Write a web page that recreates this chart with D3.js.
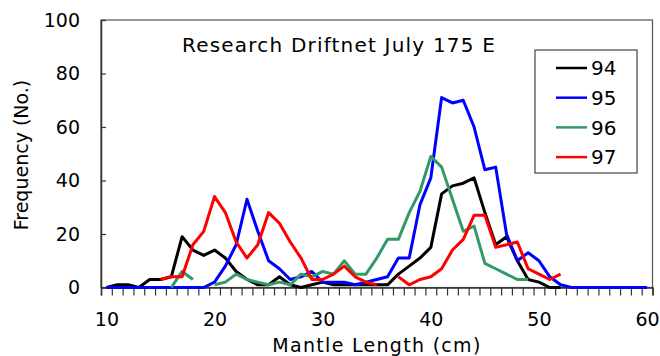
<!DOCTYPE html>
<html>
<head>
<meta charset="utf-8" />
<title>Research Driftnet July 175 E</title>
<script src="https://d3js.org/d3.v7.min.js"></script>
<style>
  body { margin: 0; background: #fff; }
  text { font-family: "DejaVu Sans", sans-serif; fill: #000; }
</style>
</head>
<body>
<script>
// mantle length classes (cm), one value per class, null = no point
const lengths = [10,11,12,13,14,15,16,17,18,19,20,21,22,23,24,25,26,27,28,29,30,31,32,33,34,35,
                 36,37,38,39,40,41,42,43,44,45,46,47,48,49,50,51,52,53,54,55,56,57,58,59,60];

const y94 = [0,1,1,0,3,3,4,19,14,12,14,11,6,3,1,1,4,1,0,1,2,1,1,1,1,1,
             1,5,8,11,15,35,38,39,41,28,16,19,10,3,2,0,0,null,null,null,null,null,null,null,null];
const y95 = [0,0,0,0,0,0,0,0,0,0,2,8,16,33,21,10,7,3,4,6,2,2,2,1,2,3,
             4,11,11,31,41,71,69,70,60,44,45,20,10,13,10,4,1,0,0,0,0,0,0,0,0];
const y96 = [null,null,null,null,null,null,0,6,3,null,1,2,5,3,2,1,2,1,5,4,6,5,10,5,5,11,
             18,18,28,36,49,45,33,21,23,9,7,5,3,3,null,null,null,null,null,null,null,null,null,null,null];
const y97 = [null,null,null,null,null,3,4,4,16,21,34,28,17,11,16,28,24,17,11,3,3,5,8,4,2,1,
             null,4,1,3,4,7,14,18,27,27,15,16,17,7,5,3,5,null,null,null,null,null,null,null,null];

const seriesNames = ["94", "95", "96", "97"];
const seriesColors = ["#000000", "#0000ff", "#339966", "#ff0000"];
const seriesValues = [y94, y95, y96, y97];

const yTicks = [0, 20, 40, 60, 80, 100];
const xLabels = [10, 20, 30, 40, 50, 60];

const W = 660, H = 356;
const plot = { left: 101, right: 652.5, top: 20, bottom: 287.5 };

const svg = d3.select("body").append("svg")
  .attr("width", W)
  .attr("height", H);

// category axis: each length sits in the middle of its slot
const x = d3.scaleLinear()
  .domain([9.5, 60.5])
  .range([plot.left, plot.right]);
const y = d3.scaleLinear()
  .domain([0, 100])
  .range([plot.bottom, plot.top]);

// frame
svg.append("rect")
  .attr("x", plot.left)
  .attr("y", plot.top)
  .attr("width", plot.right - plot.left)
  .attr("height", plot.bottom - plot.top)
  .attr("fill", "none")
  .attr("stroke", "#555")
  .attr("stroke-width", 1.2);

// y axis, ticks pointing in
const yAxis = svg.append("g")
  .attr("transform", `translate(${plot.left},0)`)
  .call(d3.axisLeft(y).tickValues(yTicks).tickSizeInner(-5).tickSizeOuter(0).tickPadding(21));
yAxis.select(".domain").attr("stroke", "#333").attr("stroke-width", 1.5);
yAxis.selectAll(".tick line").attr("stroke", "#333").attr("stroke-width", 1.2);
yAxis.selectAll("text").style("font-size", "19px").attr("fill", "#000");

// x axis: slot boundary ticks pointing down
const xAxisTicks = svg.append("g")
  .attr("transform", `translate(0,${plot.bottom})`)
  .call(d3.axisBottom(x).tickValues(d3.range(9.5, 61, 1)).tickSize(8).tickFormat(""));
xAxisTicks.select(".domain").attr("stroke", "#333").attr("stroke-width", 1.5);
xAxisTicks.selectAll(".tick line").attr("stroke", "#333").attr("stroke-width", 1.2);

const xAxisLabels = svg.append("g")
  .attr("transform", `translate(0,${plot.bottom})`)
  .call(d3.axisBottom(x).tickValues(xLabels).tickSize(0).tickPadding(25));
xAxisLabels.select(".domain").remove();
xAxisLabels.selectAll("text").style("font-size", "19px").attr("fill", "#000");

// axis titles
svg.append("text")
  .attr("x", 377)
  .attr("y", 352)
  .attr("text-anchor", "middle")
  .style("font-size", "19px")
  .style("letter-spacing", "1.3px")
  .text("Mantle Length (cm)");

svg.append("text")
  .attr("transform", "translate(28,155) rotate(-90)")
  .attr("text-anchor", "middle")
  .style("font-size", "19px")
  .text("Frequency (No.)");

svg.append("text")
  .attr("x", 182)
  .attr("y", 52)
  .style("font-size", "20px")
  .style("letter-spacing", "1.2px")
  .text("Research Driftnet July 175 E");

// series lines
const line = d3.line()
  .defined(d => d != null)
  .x((d, i) => x(lengths[i]))
  .y(d => y(d));

svg.append("g")
  .selectAll("path")
  .data(seriesValues)
  .join("path")
  .attr("d", line)
  .attr("fill", "none")
  .attr("stroke", (d, i) => seriesColors[i])
  .attr("stroke-width", 3)
  .attr("stroke-linejoin", "round");

// legend
const legend = svg.append("g");
legend.append("rect")
  .attr("x", 535)
  .attr("y", 50)
  .attr("width", 102)
  .attr("height", 123)
  .attr("fill", "#fff")
  .attr("stroke", "#444")
  .attr("stroke-width", 1.2);

const items = legend.selectAll(".item")
  .data(seriesNames)
  .join("g")
  .attr("class", "item")
  .attr("transform", (d, i) => `translate(0,${68 + i * 29.7})`);
items.append("line")
  .attr("x1", 556).attr("x2", 587)
  .attr("stroke", (d, i) => seriesColors[i])
  .attr("stroke-width", 2.5);
items.append("text")
  .attr("x", 591)
  .attr("dy", "0.36em")
  .style("font-size", "20px")
  .text(d => d);
</script>
</body>
</html>
